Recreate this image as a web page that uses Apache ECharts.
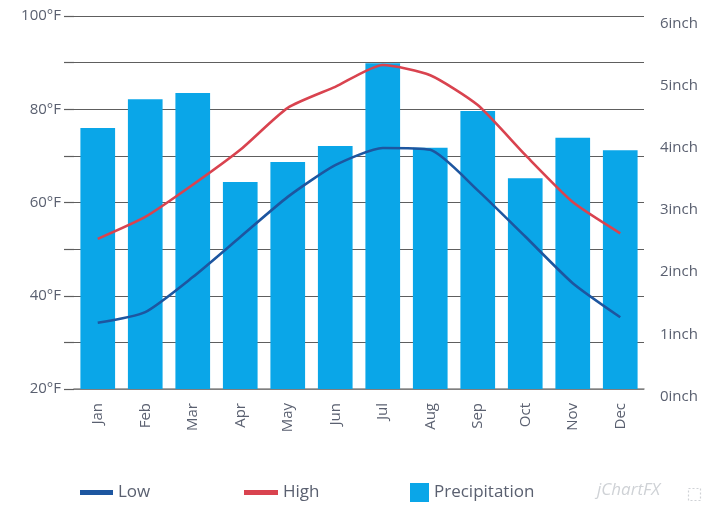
<!DOCTYPE html>
<html>
<head>
<meta charset="utf-8">
<script src="https://cdn.jsdelivr.net/npm/echarts@6/dist/echarts.min.js"></script>
<style>
  html, body { margin: 0; padding: 0; background: #fff; }
  #chart { width: 708px; height: 510px; }
</style>
</head>
<body>
<div id="chart"></div>
<script>
// Monthly climate: temperature range (°F) and precipitation (inch)
const months = ['Jan', 'Feb', 'Mar', 'Apr', 'May', 'Jun', 'Jul', 'Aug', 'Sep', 'Oct', 'Nov', 'Dec'];
const lowTemp = [34.2, 36.5, 44.0, 52.6, 61.2, 68.0, 71.7, 71.3, 62.6, 52.7, 42.7, 35.4];
const highTemp = [52.2, 56.9, 63.8, 71.3, 80.3, 84.8, 89.5, 87.3, 80.9, 70.2, 60.1, 53.4];
const precipitation = [4.20, 4.66, 4.76, 3.33, 3.65, 3.91, 5.24, 3.88, 4.47, 3.39, 4.04, 3.84];

const labelFont = { fontFamily: 'Open Sans, sans-serif', fontSize: 15, color: '#5a6070' };
const legendText = { fontFamily: 'Open Sans, sans-serif', fontSize: 17, color: '#5a6070' };
const gridColor = '#5e5e5e';

const chart = echarts.init(document.getElementById('chart'), null, { renderer: 'canvas' });

chart.setOption({
  animation: false,
  backgroundColor: '#ffffff',
  grid: { left: 74, right: 64, top: 16, bottom: 121, containLabel: false },
  legend: [
    {
      data: ['Low'], left: 80, top: 484, padding: 0, icon: 'rect',
      itemWidth: 33, itemHeight: 5, itemGap: 4, textStyle: legendText
    },
    {
      data: ['High'], left: 244, top: 484, padding: 0, icon: 'rect',
      itemWidth: 34, itemHeight: 5, itemGap: 4, textStyle: legendText
    },
    {
      data: ['Precipitation'], left: 410, top: 483, padding: 0, icon: 'rect',
      itemWidth: 19, itemHeight: 19, itemGap: 13, textStyle: legendText
    }
  ],
  xAxis: {
    type: 'category',
    data: months,
    axisLine: { show: true, lineStyle: { color: '#8a8a8a', width: 1.5 } },
    axisTick: { show: false },
    axisLabel: { ...labelFont, rotate: 90, margin: 14 },
    splitLine: { show: false }
  },
  yAxis: [
    {
      type: 'value',
      min: 20, max: 100, interval: 10,
      axisLine: { show: false },
      axisTick: { show: true, length: 10, lineStyle: { color: gridColor, width: 1.2 } },
      axisLabel: {
        ...labelFont,
        margin: 13,
        formatter: v => (v % 20 === 0 ? v + '°F' : '')
      },
      splitLine: { show: true, lineStyle: { color: gridColor, width: 1.2 } }
    },
    {
      type: 'value',
      min: 0, max: 6, interval: 1,
      position: 'right',
      axisLine: { show: false },
      axisTick: { show: false },
      axisLabel: { ...labelFont, margin: 16, verticalAlign: 'top', formatter: '{value}inch' },
      splitLine: { show: false }
    }
  ],
  series: [
    {
      name: 'Precipitation',
      type: 'bar',
      yAxisIndex: 1,
      data: precipitation,
      barWidth: '73%',
      itemStyle: { color: '#0aa6e8' },
      z: 2
    },
    {
      name: 'Low',
      type: 'line',
      yAxisIndex: 0,
      data: lowTemp,
      smooth: 0.2,
      symbol: 'none',
      lineStyle: { color: '#1d56a0', width: 2.6 },
      itemStyle: { color: '#1d56a0' },
      z: 3
    },
    {
      name: 'High',
      type: 'line',
      yAxisIndex: 0,
      data: highTemp,
      smooth: 0.2,
      symbol: 'none',
      lineStyle: { color: '#d9434f', width: 2.6 },
      itemStyle: { color: '#d9434f' },
      z: 3
    }
  ],
  graphic: [
    {
      type: 'text',
      left: 597, top: 482,
      style: {
        text: 'jChartFX',
        font: 'italic 17px "Open Sans", sans-serif',
        fill: '#cfd2d6'
      }
    },
    {
      type: 'rect',
      left: 686, top: 486,
      shape: { width: 12, height: 12 },
      style: { fill: 'none', stroke: '#cfd2d6', lineWidth: 1.2, lineDash: [2, 2] }
    }
  ]
});
</script>
</body>
</html>
